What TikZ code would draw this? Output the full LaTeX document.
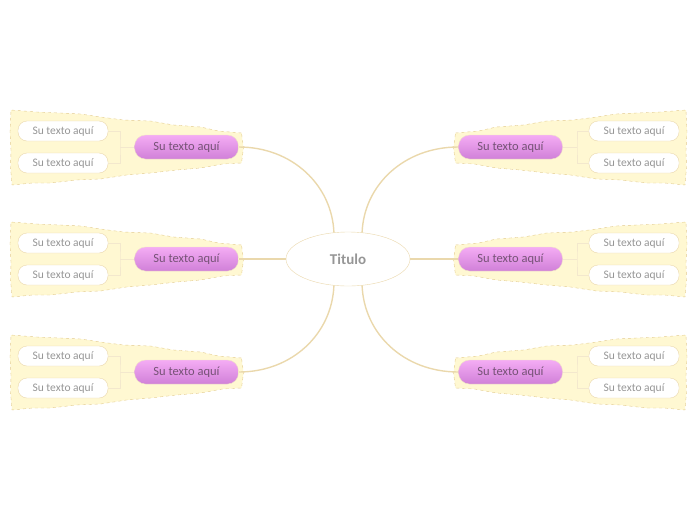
\documentclass[tikz,border=0pt]{standalone}
\usepackage{fontspec}
\setmainfont{Carlito}
\usetikzlibrary{positioning,shapes.geometric}
\definecolor{mmtan}{RGB}{234,216,172}
\definecolor{mmzone}{RGB}{255,248,210}
\definecolor{mmdash}{RGB}{226,202,140}
\definecolor{mmpurpletop}{RGB}{244,172,244}
\definecolor{mmpurplebot}{RGB}{208,128,216}
\definecolor{mmtext}{RGB}{150,150,150}
\definecolor{mmmain}{RGB}{118,82,118}

\begin{document}
\begin{tikzpicture}[x=1pt,y=-1pt,
  titlebox/.style={ellipse, draw=mmtan, fill=white, minimum width=124pt, minimum height=54pt, font=\bfseries\fontsize{15}{17}\selectfont, text=mmtext},
  mainbox/.style={rounded corners=11pt, draw=mmtan!70, top color=mmpurpletop, bottom color=mmpurplebot, minimum width=104pt, minimum height=24pt, font=\fontsize{12.5}{14}\selectfont, text=mmmain},
  subbox/.style={rounded corners=9pt, draw=mmtan, fill=white, minimum width=90pt, minimum height=20pt, font=\fontsize{11.5}{13}\selectfont, text=mmtext},
  zone/.style={draw=mmdash, dashed, fill=mmzone},
  branch/.style={mmtan, line width=1.4pt},
  twig/.style={mmtan!60, line width=0.8pt}]
\useasboundingbox (0,0) rectangle (696,520);
% Central topic
\node[titlebox] (title) at (348,259) {Titulo};
% Both sides, three groups each
\foreach \s/\n/\inn/\out in {-1/l/east/west, 1/r/west/east} {
  \begin{scope}[shift={(348.5,0)}, xscale=\s]
  \foreach \k/\y in {1/147, 2/259, 3/372} {
    % yellow boundary
    \draw[zone] (107,\y-14) -- (130,\y-16) -- (148,\y-20) -- (175,\y-22) -- (198,\y-26) -- (225,\y-27)
      -- (248,\y-30) -- (268,\y-33) -- (288,\y-34) -- (312,\y-35) -- (337.5,\y-37)
      -- (338.5,\y-15) -- (337.5,\y+3) -- (338,\y+20) -- (336.5,\y+38) -- (316,\y+36) -- (298,\y+36)
      -- (272,\y+33) -- (248,\y+32) -- (222,\y+28) -- (198,\y+26) -- (172,\y+23) -- (148,\y+21)
      -- (126,\y+17) -- (107,\y+16) -- (105,\y+1) -- cycle;
    \node[mainbox] (main\n\k) at (162,\y) {Su texto aquí};
    \node[subbox] (sub\n\k-a) at (285.5,\y-16) {Su texto aquí};
    \node[subbox] (sub\n\k-b) at (285.5,\y+16) {Su texto aquí};
    \coordinate (fork\n\k) at (228.5,\y);
    \draw[twig] (main\n\k.\out) -- (fork\n\k);
    \draw[twig] (sub\n\k-a.\inn) -| (fork\n\k) |- (sub\n\k-b.\inn);
  }
  \end{scope}
}
% Branches
\draw[branch] (title.118) .. controls (332,185) and (292,147) .. (mainl1.east);
\draw[branch] (title.62) .. controls (364,185) and (404,147) .. (mainr1.west);
\draw[branch] (title.west) -- (mainl2.east);
\draw[branch] (title.east) -- (mainr2.west);
\draw[branch] (title.242) .. controls (332,334) and (292,372) .. (mainl3.east);
\draw[branch] (title.298) .. controls (364,334) and (404,372) .. (mainr3.west);
\end{tikzpicture}
\end{document}
